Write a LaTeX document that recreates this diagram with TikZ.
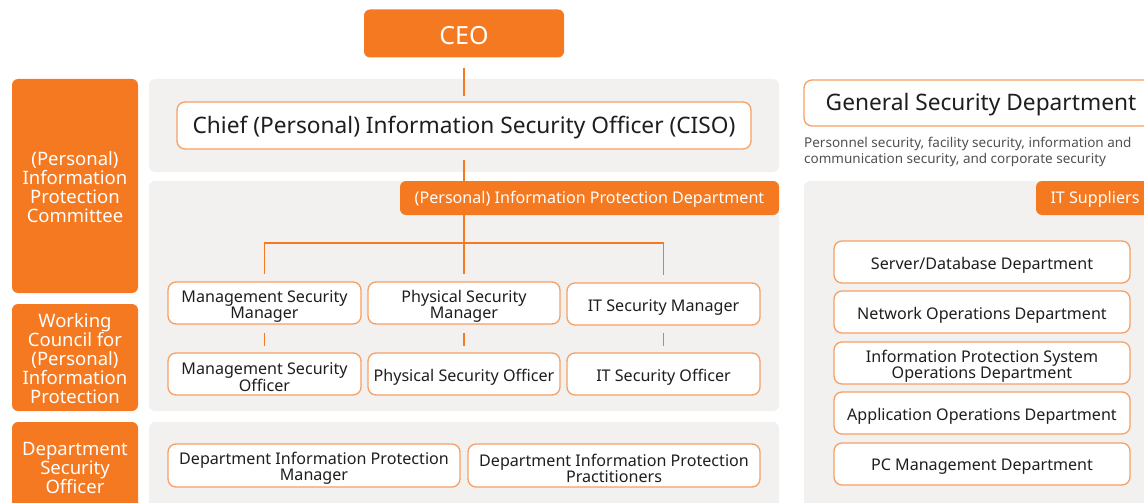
\documentclass[tikz,border=0pt]{standalone}
\usepackage{fontspec}
\setmainfont{Noto Sans}
\definecolor{orng}{HTML}{F47920}
\definecolor{lorng}{HTML}{F5A064}
\definecolor{panelgray}{HTML}{F2F1F0}
\definecolor{txt}{HTML}{1E1E1E}
\definecolor{desc}{HTML}{505050}
\tikzset{
  obox/.style={fill=orng, rounded corners=6, inner sep=0pt},
  wbox/.style={fill=white, draw=lorng, line width=1.3pt, rounded corners=8, inner sep=0pt},
  panel/.style={fill=panelgray, rounded corners=6},
  conn/.style={draw=orng, line width=1.5pt},
  fbig/.style={font=\fontsize{22.7}{24}\selectfont},
  fmid/.style={font=\fontsize{16.1}{16}\selectfont},
  fside/.style={font=\fontsize{18.5}{19}\selectfont},
  ltext/.style={inner sep=0pt, align=center},
  wt/.style={label={[ltext, text=txt, fmid, yshift=-3pt]center:{#1}}},
  bt/.style={label={[ltext, text=txt, fbig, yshift=-2pt]center:{#1}}},
  ot/.style={label={[ltext, text=white, fmid, yshift=-1.5pt]center:{#1}}},
  st/.style={label={[ltext, text=white, fside, yshift=-1.5pt]center:{#1}}},
  ct/.style={label={[ltext, text=white, font=\fontsize{25}{26}\selectfont, yshift=-2pt]center:{#1}}},
}
\begin{document}
\begin{tikzpicture}[x=1pt,y=-1pt]
\useasboundingbox (0,0) rectangle (1144,503);
\clip (0,0) rectangle (1144,503);
% panels
\fill[panel] (149,79) rectangle (779,172);
\fill[panel] (149,181) rectangle (779,411);
\fill[panel] (149,422) rectangle (779,530);
\fill[panel] (804,181) rectangle (1170,530);
% left labels
\node[obox, minimum width=126, minimum height=214, st={(Personal)\\Information\\Protection\\Committee}] (lb1) at (75,186) {};
\node[obox, minimum width=126, minimum height=107, st={Working\\Council for\\(Personal)\\Information\\Protection}] (lb2) at (75,357.5) {};
\node[obox, minimum width=126, minimum height=88, st={Department\\Security\\Officer}] (lb3) at (75,466) {};
% top
\node[obox, minimum width=200, minimum height=48, ct={CEO}] (ceo) at (464,33.5) {};
\node[wbox, minimum width=574, minimum height=47, bt={Chief (Personal) Information Security Officer (CISO)}] (ciso) at (464,125.5) {};
\node[obox, minimum width=379, minimum height=34, ot={(Personal) Information Protection Department}] (dept) at (589.5,198) {};
% managers
\node[wbox, minimum width=193, minimum height=42, wt={Management Security\\Manager}] (msm) at (264.5,303) {};
\node[wbox, minimum width=192, minimum height=42, wt={Physical Security\\Manager}] (psm) at (464,303) {};
\node[wbox, minimum width=193, minimum height=42, wt={IT Security Manager}] (itm) at (663.5,304) {};
% officers
\node[wbox, minimum width=193, minimum height=42, wt={Management Security\\Officer}] (mso) at (264.5,374) {};
\node[wbox, minimum width=192, minimum height=42, wt={Physical Security Officer}] (pso) at (464,374) {};
\node[wbox, minimum width=193, minimum height=42, wt={IT Security Officer}] (ito) at (663.5,374) {};
% department level
\node[wbox, minimum width=292, minimum height=43, wt={Department Information Protection\\Manager}] (dipm) at (314,465.5) {};
\node[wbox, minimum width=292, minimum height=43, wt={Department Information Protection\\Practitioners}] (dipp) at (614,465.5) {};
% right side
\node[wbox, minimum width=354, minimum height=46, bt={General Security Department}] (gsd) at (981,103) {};
\node[anchor=north west, inner sep=0pt, text=desc, align=left, font=\fontsize{13.5}{16}\selectfont] (gdesc) at (804,137) {Personnel security, facility security, information and\\communication security, and corporate security};
\node[obox, minimum width=118, minimum height=34, ot={IT Suppliers}] (its) at (1095,198) {};
\node[wbox, minimum width=296, minimum height=42, wt={Server/Database Department}] (srv) at (982,262) {};
\node[wbox, minimum width=296, minimum height=42, wt={Network Operations Department}] (net) at (982,312) {};
\node[wbox, minimum width=296, minimum height=42, wt={Information Protection System\\Operations Department}] (ips) at (982,363) {};
\node[wbox, minimum width=296, minimum height=42, wt={Application Operations Department}] (app) at (982,413) {};
\node[wbox, minimum width=296, minimum height=42, wt={PC Management Department}] (pc) at (982,464) {};
% connectors
\coordinate (bus) at (464,243);
\draw[conn, shorten <=10pt, shorten >=5pt] (ceo.south) -- (ciso.north);
\draw[conn, shorten <=10pt] (ciso.south) -- (ciso.south |- dept.north);
\draw[conn] (ciso.south |- dept.south) -- (bus);
\draw[conn, shorten >=7pt] (bus) -| (msm.north);
\draw[conn, shorten >=7pt] (bus) -- (psm.north);
\draw[conn, shorten >=7pt] (bus) -| (itm.north);
\draw[conn, shorten <=8pt, shorten >=6pt] (msm.south) -- (mso.north);
\draw[conn, shorten <=8pt, shorten >=6pt] (psm.south) -- (pso.north);
\draw[conn, shorten <=7pt, shorten >=6pt] (itm.south) -- (ito.north);
\end{tikzpicture}
\end{document}
